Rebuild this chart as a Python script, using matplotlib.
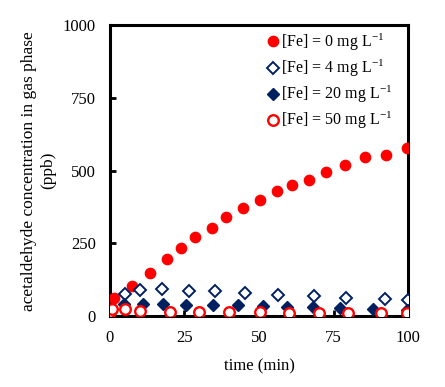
import matplotlib
matplotlib.use("Agg")
import matplotlib.pyplot as plt

plt.rcParams['font.family'] = ['Liberation Serif', 'DejaVu Serif']
plt.rcParams['mathtext.fontset'] = 'custom'
plt.rcParams['mathtext.rm'] = 'Liberation Serif'
plt.rcParams['mathtext.it'] = 'Liberation Serif:italic'

# [Fe] = 0 mg/L
t0 = [1.3, 7.5, 13.4, 19, 24, 28.5, 34.2, 39.1, 44.8, 50.4, 56.2, 61, 66.9, 72.6, 78.9, 85.7, 92.6, 99.7]
c0 = [61, 103, 149, 196, 235, 272, 304, 339, 373, 398, 429, 452, 469, 494, 521, 546, 555, 579]

# [Fe] = 4 mg/L
t4 = [5, 10, 17.6, 26.5, 35.2, 45.2, 56.5, 68.5, 79.2, 92.4, 100]
c4 = [75, 88, 92, 86, 85, 79, 73, 70, 63, 57, 55]

# [Fe] = 20 mg/L
t20 = [0.5, 4.7, 11, 17.7, 25.5, 34.7, 43, 51.5, 59.5, 68.2, 77.2, 88.4, 99.5]
c20 = [20, 40, 40, 40, 38, 39, 38, 34, 32, 30, 26, 24, 21]

# [Fe] = 50 mg/L
t50 = [0, 0.6, 5, 10, 20, 30, 40, 50.3, 60, 70, 80, 91, 99.8]
c50 = [15, 23, 23, 17, 14, 13, 13, 12, 11, 11, 11, 11, 11]

navy = '#002060'
red = '#ff0000'

fig = plt.figure(figsize=(4.45, 3.87), dpi=100)
ax = fig.add_axes([0.247, 0.1835, 0.67, 0.751])

ax.plot(t0, c0, 'o', color=red, ms=7.4, mec=red, label='[Fe] = 0 mg L$^{-1}$', zorder=3)
ax.plot(t4, c4, 'D', color=navy, mfc='white', mec=navy, ms=6.0, mew=1.4,
        label='[Fe] = 4 mg L$^{-1}$', zorder=3)
ax.plot(t20, c20, 'D', color=navy, mec=navy, ms=6.0, label='[Fe] = 20 mg L$^{-1}$', zorder=3)
ax.plot(t50, c50, 'o', color=red, mfc='white', mec=red, ms=7.6, mew=1.7,
        label='[Fe] = 50 mg L$^{-1}$', zorder=4)

ax.set_xlim(0, 100)
ax.set_ylim(0, 1000)
ax.set_xticks([0, 25, 50, 75, 100])
ax.set_yticks([0, 250, 500, 750, 1000])
ax.tick_params(direction='in', length=4, width=2, labelsize=12, pad=10)
for s in ax.spines.values():
    s.set_linewidth(2.2)

ax.set_xlabel('time (min)', fontsize=12, labelpad=9)
ax.set_ylabel('acetaldehyde concentration in gas phase\n(ppb)', fontsize=12.5,
              labelpad=5, linespacing=1.25)

ax.legend(loc='upper right', bbox_to_anchor=(0.97, 1.0), frameon=False, fontsize=11.5,
          handletextpad=0.05, handlelength=1.0, labelspacing=0.3, borderaxespad=0.0)

fig.savefig('out.png', dpi=100)
